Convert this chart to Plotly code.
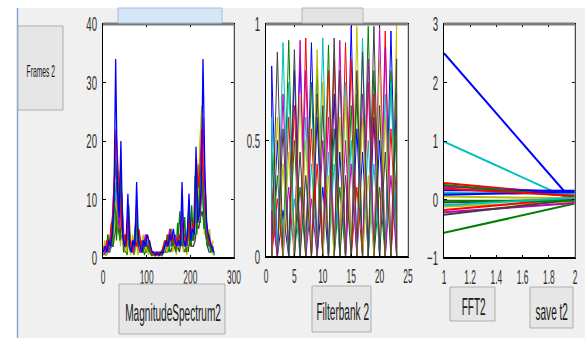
import plotly.graph_objects as go

# ---------------- data ----------------
# Magnitude spectrum (several frames), sampled every 4 bins with per-series offset
spec_blue = [1, 2, 1, 3, 2, 4, 9, 34,
             12, 7, 20, 4, 2, 3, 11, 2,
             1, 3, 2, 13, 3, 2, 1, 3,
             2, 4, 3, 2, 1, 1, 0.5, 1,
             0.5, 1, 0.8, 2, 3, 2, 4, 3,
             5, 3, 2, 3, 2, 13, 3, 2,
             4, 11, 3, 5, 4, 19, 6, 8,
             12, 34, 16, 6, 4, 3, 2, 1]
spec_red = [2, 1, 3, 2, 5, 7, 14, 22,
            16, 10, 6, 3, 4, 2, 7, 3,
            2, 1, 3, 2, 5, 3, 2, 2,
            3, 4, 2, 1, 1, 0.5, 1, 0.5,
            1, 0.5, 2, 3, 2, 4, 3, 4,
            3, 2, 3, 4, 3, 6, 4, 3,
            3, 7, 4, 6, 5, 17, 12, 15,
            22, 13, 8, 5, 3, 2, 2, 1]
spec_green = [1, 2, 1, 2, 3, 2, 6, 18,
              12, 8, 15, 5, 3, 2, 6, 2,
              1, 2, 3, 7, 2, 3, 2, 1,
              3, 2, 2, 1, 0.5, 1, 0.5, 0.8,
              0.5, 1, 1.5, 2, 3, 2, 3, 4,
              2, 3, 2, 3, 8, 2, 3, 2,
              3, 8, 2, 4, 3, 15, 7, 9,
              16, 10, 6, 4, 2, 3, 1, 2]
spec_cyan = [0.5, 1, 2, 1, 3, 5, 10, 12,
             9, 6, 10, 3, 2, 4, 5, 1,
             2, 1, 2, 5, 3, 2, 3, 2,
             2, 3, 1, 0.5, 1, 0.5, 0.8, 1,
             0.5, 1, 2, 1.5, 2, 3, 2, 3,
             4, 2, 3, 2, 5, 4, 2, 3,
             6, 4, 3, 5, 7, 10, 9, 12,
             14, 9, 5, 3, 2, 1, 2, 0.5]
spec_magenta = [0.5, 1, 3, 1, 2, 6, 12, 16,
                9, 5, 13, 6, 2, 2, 8, 3,
                2, 1, 4, 9, 2, 1, 3, 2,
                4, 2, 2, 1, 0.5, 0.8, 1, 0.5,
                1, 0.8, 1, 2, 2, 3, 5, 2,
                3, 4, 3, 2, 3, 9, 2, 3,
                2, 8, 4, 3, 5, 14, 10, 7,
                10, 24, 12, 5, 3, 2, 2, 1]
spec_yellow = [1, 0.5, 1, 2, 2, 3, 8, 10,
               7, 5, 9, 2, 3, 1, 4, 2,
               1, 2, 1, 4, 2, 1, 2, 1,
               2, 1, 1, 0.5, 0.8, 0.5, 1, 0.5,
               0.8, 1, 1, 2, 1, 2, 3, 2,
               2, 3, 2, 2, 3, 5, 2, 2,
               2, 6, 3, 3, 4, 10, 9, 20,
               26, 8, 6, 3, 2, 2, 1, 0.5]
spec_dark = [1, 0.5, 1, 1, 2, 2, 4, 6,
             5, 3, 4, 2, 1, 1, 3, 1,
             1, 1, 2, 3, 1, 1, 1, 1,
             1, 2, 1, 0.5, 0.5, 0.5, 0.5, 0.5,
             0.5, 0.5, 1, 1, 1, 2, 1, 2,
             2, 1, 2, 1, 3, 2, 1, 2,
             1, 4, 2, 2, 3, 6, 5, 7,
             8, 6, 4, 2, 1, 1, 1, 0.5]
spec_yellow2 = [0.5, 3, 0.5, 4, 1, 5, 3, 12,
                4, 9, 2, 8, 1, 3, 0.5, 7,
                0.5, 4, 1, 5, 0.5, 3, 1, 4,
                1, 3, 0.5, 2, 0.3, 1, 0.3, 0.8,
                0.3, 1, 0.5, 3, 1, 4, 1, 5,
                1, 4, 0.5, 5, 2, 6, 1, 4,
                0.5, 5, 2, 7, 3, 12, 5, 14,
                9, 18, 4, 9, 2, 5, 1, 3]
spec_green2 = [2, 0.5, 4, 1, 6, 2, 13, 3,
               14, 3, 11, 1, 4, 0.5, 9, 1,
               3, 0.5, 6, 2, 4, 1, 3, 0.5,
               4, 1, 3, 0.5, 1, 0.3, 1, 0.3,
               1, 0.3, 2, 1, 4, 1, 5, 2,
               4, 1, 6, 2, 5, 3, 7, 1,
               6, 2, 9, 3, 14, 4, 16, 6,
               20, 5, 11, 2, 4, 1, 2, 0.5]

# Filterbank: peak heights of the triangular responses at each filter index 1..23
fb_index = list(range(1, 24))
fb_heights = [
    [0.82, 0.45, 0.3, 0.6, 0.2],
    [0.6, 0.88, 0.5, 0.35, 0.25],
    [0.92, 0.7, 0.4, 0.55, 0.2],
    [0.93, 0.6, 0.75, 0.3, 0.45],
    [0.89, 0.8, 0.5, 0.65, 0.25],
    [0.93, 0.7, 0.45, 0.85, 0.3],
    [0.94, 0.6, 0.8, 0.5, 0.35],
    [0.92, 0.75, 0.55, 0.4, 0.25],
    [0.89, 0.7, 0.6, 0.82, 0.4],
    [0.94, 0.5, 0.75, 0.65, 0.3],
    [0.91, 0.8, 0.45, 0.6, 0.35],
    [0.94, 0.7, 0.55, 0.85, 0.4],
    [0.93, 0.6, 0.8, 0.45, 0.3],
    [0.92, 0.75, 0.5, 0.68, 0.35],
    [0.99, 0.65, 0.85, 0.5, 0.4],
    [0.99, 0.8, 0.55, 0.7, 0.3],
    [0.94, 0.7, 0.6, 0.88, 0.45],
    [0.99, 0.75, 0.5, 0.85, 0.35],
    [0.99, 0.6, 0.8, 0.7, 0.4],
    [0.99, 0.85, 0.65, 0.5, 0.3],
    [0.97, 0.7, 0.9, 0.6, 0.45],
    [0.97, 0.8, 0.55, 0.75, 0.35],
    [1.0, 0.85, 0.7, 0.6, 0.4],
]

# FFT2: each line goes from x=1 to x=2
fft_x = [1, 2]
fft_start = [2.5, -0.57, 0.28, 0.99, 0.22, -0.12, -0.05, 0.16, 0.25,
             -0.18, 0.11, -0.22, 0.05, -0.26, 0.08, -0.02, 0.19, -0.1]
fft_end = [-0.07, -0.07, 0.08, -0.03, 0.12, -0.04, 0.0, 0.15, 0.05,
           0.02, 0.1, -0.06, 0.02, 0.0, 0.13, -0.02, 0.06, 0.03]

# tick labels
ax1_xticks = [0, 100, 200, 300]
ax1_yticks = [0, 10, 20, 30, 40]
ax2_xticks = [0, 5, 10, 15, 20, 25]
ax2_yticks = [0, 0.5, 1]
ax2_ytext = ["0", "0.5", "1"]
ax3_xticks = [1, 1.2, 1.4, 1.6, 1.8, 2]
ax3_xtext = ["1", "1.2", "1.4", "1.6", "1.8", "2"]
ax3_yticks = [-1, 0, 1, 2, 3]

# ---------------- styling ----------------
W, H = 585, 338
FONT = "Liberation Sans, Arial, sans-serif"
MCOL = ["#0000ff", "#008000", "#ff0000", "#00bfbf", "#bf00bf", "#bfbf00", "#404040"]


def px(x):
    return x / W


def py(y):
    return 1 - y / H


fig = go.Figure()

# ---- magnitude spectrum ----
spec_series = [
    (spec_dark, 3, MCOL[6]),
    (spec_yellow2, 0, MCOL[5]),
    (spec_green2, 3, MCOL[1]),
    (spec_yellow, 2, MCOL[5]),
    (spec_cyan, 3, MCOL[3]),
    (spec_magenta, 1, MCOL[4]),
    (spec_green, 0, MCOL[1]),
    (spec_red, 2, MCOL[2]),
    (spec_blue, 1, MCOL[0]),
]
for vals, off, col in spec_series:
    xs = list(range(off, 256, 4))[:len(vals)]
    fig.add_trace(go.Scatter(x=xs, y=vals, mode="lines", line=dict(color=col, width=1.3),
                             xaxis="x", yaxis="y", showlegend=False, hoverinfo="skip"))

# ---- filterbank ----
fb_x = {c: [] for c in range(7)}
fb_y = {c: [] for c in range(7)}
ci = 0
for k, hs in zip(fb_index, fb_heights):
    for h in hs:
        c = ci % 7
        fb_x[c] += [max(1, k - 1), k, min(23, k + 1), None]
        fb_y[c] += [0, h, 0, None]
        ci += 1
for c in range(7):
    fig.add_trace(go.Scatter(x=fb_x[c], y=fb_y[c], mode="lines", line=dict(color=MCOL[c], width=1),
                             xaxis="x2", yaxis="y2", showlegend=False, hoverinfo="skip"))
fig.add_trace(go.Scatter(x=[1, 23], y=[0, 0], mode="lines", line=dict(color="#ff5a5a", width=2),
                         xaxis="x2", yaxis="y2", showlegend=False, hoverinfo="skip"))

# ---- FFT2 ----
for i, (s, e) in enumerate(zip(fft_start, fft_end)):
    fig.add_trace(go.Scatter(x=fft_x, y=[s, e], mode="lines", line=dict(color=MCOL[i % 7], width=2),
                             xaxis="x3", yaxis="y3", showlegend=False, hoverinfo="skip"))

tickfont = dict(family=FONT, size=20, color="#303030")


def axis_common():
    return dict(showgrid=False, zeroline=False, showline=True, linecolor="black", linewidth=1,
                ticks="inside", ticklen=3, tickcolor="black", mirror="allticks",
                tickfont=tickfont, fixedrange=True, automargin=False, tickangle=0)


fig.update_layout(
    width=W, height=H, autosize=False,
    margin=dict(l=0, r=0, t=0, b=0),
    paper_bgcolor="#f0f0f0", plot_bgcolor="white",
    xaxis=dict(domain=[px(103), px(234)], range=[0, 300], tickvals=ax1_xticks,
               anchor="y", ticklabelstandoff=1, **axis_common()),
    yaxis=dict(domain=[py(258), py(24)], range=[0, 40], tickvals=ax1_yticks,
               anchor="x", ticklabelstandoff=1, **axis_common()),
    xaxis2=dict(domain=[px(266), px(408)], range=[0, 25], tickvals=ax2_xticks,
                anchor="y2", ticklabelstandoff=1, **axis_common()),
    yaxis2=dict(domain=[py(257), py(24)], range=[0, 1], tickvals=ax2_yticks, ticktext=ax2_ytext,
                anchor="x2", ticklabelstandoff=1, **axis_common()),
    xaxis3=dict(domain=[px(444), px(575)], range=[1, 2], tickvals=ax3_xticks, ticktext=ax3_xtext,
                anchor="y3", ticklabelstandoff=1, **axis_common()),
    yaxis3=dict(domain=[py(258), py(24)], range=[-1, 3], tickvals=ax3_yticks,
                anchor="x3", ticklabelstandoff=1, **axis_common()),
)

shapes = []
# window frame: white strips and blue border
shapes.append(dict(type="rect", xref="paper", yref="paper", x0=0, x1=px(17), y0=0, y1=1,
                   fillcolor="white", line=dict(width=0), layer="below"))
shapes.append(dict(type="rect", xref="paper", yref="paper", x0=0, x1=1, y0=py(8), y1=1,
                   fillcolor="white", line=dict(width=0), layer="below"))
shapes.append(dict(type="line", xref="paper", yref="paper", x0=px(17.5), x1=px(17.5), y0=0, y1=py(8),
                   line=dict(color="#86a9d6", width=1.5)))

# axis box accents (gray top edge, gray right edge, heavier bottom)
for xr, yr in [("x", "y"), ("x2", "y2"), ("x3", "y3")]:
    shapes.append(dict(type="line", xref=xr + " domain", yref=yr + " domain", x0=0, x1=1, y0=1, y1=1,
                       line=dict(color="#7a7a7a", width=3)))
    shapes.append(dict(type="line", xref=xr + " domain", yref=yr + " domain", x0=1, x1=1, y0=0, y1=1,
                       line=dict(color="#9a9a9a", width=1)))
    shapes.append(dict(type="line", xref=xr + " domain", yref=yr + " domain", x0=0, x1=1, y0=0, y1=0,
                       line=dict(color="black", width=2)))

# buttons: (x0, x1, y0, y1, fill, border)
buttons = [
    (18, 63, 26, 110, "#e6e6e6", "#adadad"),
    (118, 222, 8, 23, "#d7e6f6", "#9dbfe3"),
    (302, 363, 8, 23, "#e3e3e3", "#b3b3b3"),
    (119, 225, 284, 334, "#e6e6e6", "#adadad"),
    (312, 371, 286, 332, "#e6e6e6", "#adadad"),
    (450, 495, 287, 321, "#e6e6e6", "#adadad"),
    (530, 573, 287, 328, "#e6e6e6", "#adadad"),
]
for x0, x1, y0, y1, fc, lc in buttons:
    shapes.append(dict(type="rect", xref="paper", yref="paper", x0=px(x0), x1=px(x1), y0=py(y1), y1=py(y0),
                       fillcolor=fc, line=dict(color=lc, width=1)))
fig.update_layout(shapes=shapes)

labels = [
    ("Frames 2", 41, 72, 16),
    ("MagnitudeSpectrum2", 173, 312, 24),
    ("Filterbank 2", 342, 311, 24),
    ("FFT2", 473, 306, 24),
    ("save t2", 551, 311, 24),
]
for txt, cx, cy, fs in labels:
    fig.add_annotation(text=txt, x=px(cx), y=py(cy), xref="paper", yref="paper", showarrow=False,
                       xanchor="center", yanchor="middle",
                       font=dict(family=FONT, size=fs, color="#1a1a1a"))

# The reference screenshot is horizontally compressed: condense every text horizontally
# around its own anchor point (the text stays real, selectable text).
condense_js = """
var gd = document.getElementById('{plot_id}');
var groups = [
  ['.xtick text, .x2tick text, .x3tick text', 0.42],
  ['.ytick text, .y2tick text, .y3tick text', 0.48],
  ['.annotation-text', 0.42]
];
groups.forEach(function(g){
  gd.querySelectorAll(g[0]).forEach(function(t){
    var x = parseFloat(t.getAttribute('x')) || 0;
    var tr = t.getAttribute('transform') || '';
    var s = g[1];
    t.setAttribute('transform', tr + ' translate(' + x + ',0) scale(' + s + ',1) translate(' + (-x) + ',0)');
  });
});
"""

fig.write_html("out.html", post_script=condense_js)
